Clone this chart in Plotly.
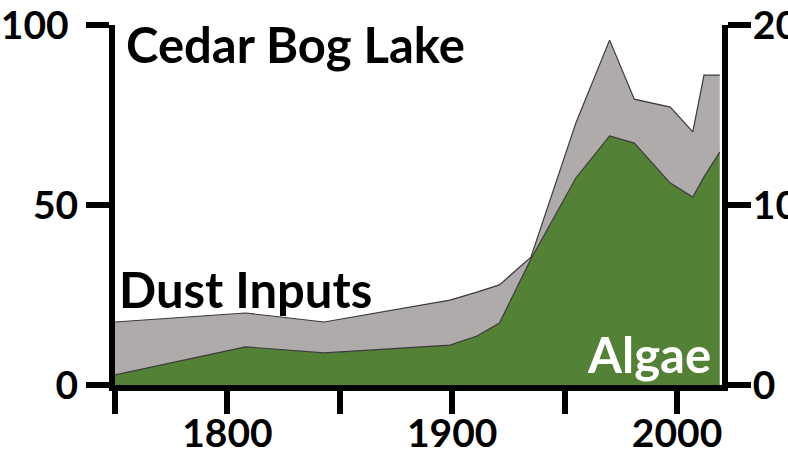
import plotly.graph_objects as go

years = [1750, 1808, 1843, 1899, 1911, 1921, 1935, 1955, 1970, 1981, 1997, 2007, 2012, 2019]
algae = [2.8, 10.6, 8.9, 11.1, 13.6, 17.2, 35.0, 57.5, 69.2, 67.2, 56.1, 52.2, 57.8, 64.7]
dust = [14.7, 9.4, 8.6, 12.5, 12.2, 10.6, 0.5, 15.3, 26.6, 12.2, 21.1, 18.1, 28.3, 21.4]

x_tickvals = [1750, 1800, 1850, 1900, 1950, 2000]
x_ticktext = ["", "1800", "", "1900", "", "2000"]
left_tickvals = [0, 50, 100]
left_ticktext = ["0", "50", "100\u00a0"]
right_tickvals = [0, 10, 20]
right_ticktext = ["0", "10", "20"]

FONT = "Lato"
GREEN = "#538135"
GRAY = "#AFABAB"
EDGE = "#3a3a3a"

fig = go.Figure()
fig.add_trace(go.Scatter(x=years, y=algae, stackgroup="one", mode="lines",
                         line=dict(color=EDGE, width=1.2), fillcolor=GREEN,
                         name="Algae", hoverinfo="x+y"))
fig.add_trace(go.Scatter(x=years, y=dust, stackgroup="one", mode="lines",
                         line=dict(color=EDGE, width=1.2), fillcolor=GRAY,
                         name="Dust Inputs", hoverinfo="x+y"))

axis_common = dict(showgrid=False, zeroline=False, showline=True, linecolor="black",
                   linewidth=6, ticks="outside", ticklen=23, tickwidth=6, tickcolor="black",
                   automargin=False,
                   tickfont=dict(family=FONT, size=39, color="black", weight="bold"))

fig.update_layout(
    width=788, height=453,
    margin=dict(l=115, r=66, t=25, b=68),
    paper_bgcolor="white", plot_bgcolor="white",
    showlegend=False,
    xaxis=dict(range=[1750, 2020], tickvals=x_tickvals, ticktext=x_ticktext,
               ticklabelstandoff=-14, **axis_common),
    yaxis=dict(range=[0, 100], tickvals=left_tickvals, ticktext=left_ticktext, **axis_common),
    yaxis2=dict(range=[0, 20], tickvals=right_tickvals, ticktext=right_ticktext,
                overlaying="y", side="right", anchor="x", ticklabelstandoff=-6, **axis_common),
)
# invisible trace to activate right axis
fig.add_trace(go.Scatter(x=[years[0]], y=[0], yaxis="y2", mode="markers",
                         marker=dict(opacity=0), hoverinfo="skip", showlegend=False))

label_font = dict(family=FONT, size=49, color="black", weight="bold")
fig.add_annotation(text="Cedar Bog Lake", xref="paper", yref="paper",
                   x=(124 - 115) / 607, y=(385 - 44) / 360, xanchor="left", yanchor="middle",
                   showarrow=False, font=label_font)
fig.add_annotation(text="Dust Inputs", xref="paper", yref="paper",
                   x=(117 - 115) / 607, y=(385 - 289) / 360, xanchor="left", yanchor="middle",
                   showarrow=False, font=label_font)
fig.add_annotation(text="Algae", xref="paper", yref="paper",
                   x=(713 - 115) / 607, y=(385 - 354) / 360, xanchor="right", yanchor="middle",
                   showarrow=False, font=dict(family=FONT, size=49, color="white", weight="bold"))

fig.write_html("out.html", config={"displayModeBar": False},
               post_script="document.body.style.margin='0';")
